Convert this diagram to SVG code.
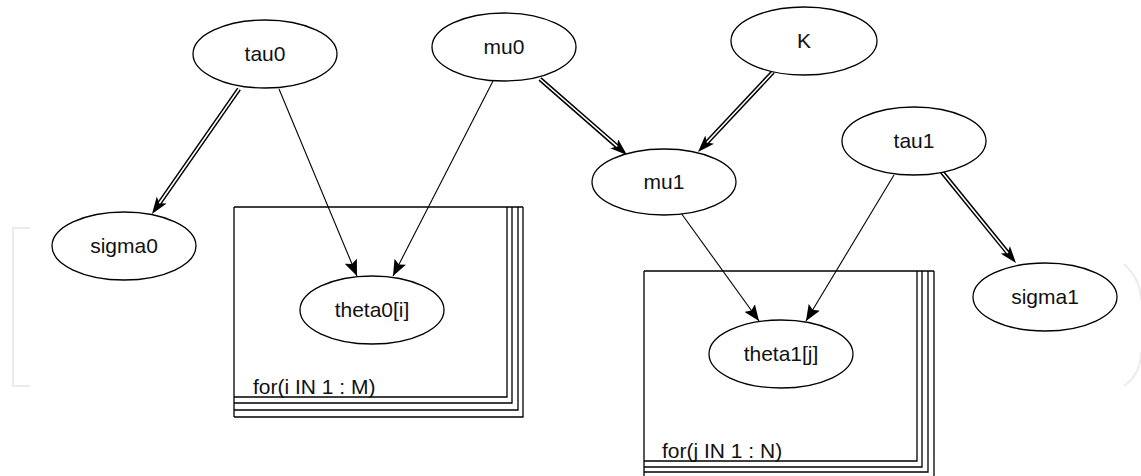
<svg xmlns="http://www.w3.org/2000/svg" width="1141" height="476" viewBox="0 0 1141 476">
  <defs>
    <style>
      .node ellipse { fill: #ffffff; stroke: #000000; stroke-width: 1.3; }
      .node text, .plate text { font-family: "Liberation Sans", Arial, sans-serif; font-size: 21px; fill: #111111; }
      .node text { text-anchor: middle; }
      .plate path { fill: none; stroke: #000000; stroke-width: 1.3; }
      .stoch { fill: none; stroke: #000000; stroke-width: 1.1; }
      .band { fill: none; stroke: #000000; stroke-width: 4.6; }
      .core { fill: none; stroke: #ffffff; stroke-width: 1.6; }
      .faint { fill: none; stroke: #ebebeb; stroke-width: 2; }
    </style>
    <!-- arrowhead for stochastic (single-line) links -->
    <marker id="headS" viewBox="0 0 16 13" refX="16" refY="6.5" markerWidth="16" markerHeight="13" markerUnits="userSpaceOnUse" orient="auto">
      <path d="M0,0 L16,6.5 L0,13 L3,6.5 z" fill="#000000"/>
    </marker>
    <!-- arrowhead for logical (double-line) links -->
    <marker id="headD" viewBox="0 0 17 12" refX="4" refY="6" markerWidth="17" markerHeight="12" markerUnits="userSpaceOnUse" orient="auto">
      <path d="M0,0 L17,6 L0,12 L4,6 z" fill="#000000"/>
    </marker>
  </defs>

  <rect width="1141" height="476" fill="#ffffff"/>

  <!-- faint page furniture at the edges -->
  <path class="faint" d="M30,228 H13 V386 H30"/>
  <path class="faint" d="M1124,264 Q1141,280 1141,300"/>
  <path class="faint" d="M1141,352 Q1141,374 1124,386"/>

  <!-- plates -->
  <g id="plate-i" class="plate">
    <path d="M234,207 H523 M234,207 V417 M507,207 V397 H234 M512,207 V403 H234 M518,207 V410 H234 M523,207 V417 H234"/>
    <text x="253" y="394">for(i IN 1 : M)</text>
  </g>
  <g id="plate-j" class="plate">
    <path d="M644,271 H934 M644,271 V476 M917,271 V461 H644 M922,271 V467 H644 M928,271 V472 H644 M934,271 V478 H644"/>
    <text x="662" y="458">for(j IN 1 : N)</text>
  </g>

  <!-- connectors -->
  <g id="connectors">
    <path class="stoch" d="M279,89 L357,276" marker-end="url(#headS)"/>
    <path class="stoch" d="M493,81 L393,276" marker-end="url(#headS)"/>
    <path class="stoch" d="M681,213 L759,321" marker-end="url(#headS)"/>
    <path class="stoch" d="M894,175 L806,321" marker-end="url(#headS)"/>

    <path class="band" d="M239,89 L159.4,203.3" marker-end="url(#headD)"/>
    <path class="core" d="M239,89 L159.4,203.3"/>
    <path class="band" d="M540,79 L617.2,146.4" marker-end="url(#headD)"/>
    <path class="core" d="M540,79 L617.2,146.4"/>
    <path class="band" d="M773,72 L706.9,142.5" marker-end="url(#headD)"/>
    <path class="core" d="M773,72 L706.9,142.5"/>
    <path class="band" d="M942,172 L1007.8,252.9" marker-end="url(#headD)"/>
    <path class="core" d="M942,172 L1007.8,252.9"/>
  </g>

  <!-- nodes -->
  <g id="tau0" class="node"><ellipse cx="265" cy="54" rx="72" ry="34"/><text x="265" y="61">tau0</text></g>
  <g id="mu0" class="node"><ellipse cx="504" cy="47" rx="72" ry="34"/><text x="504" y="54">mu0</text></g>
  <g id="K" class="node"><ellipse cx="804" cy="41" rx="73" ry="34"/><text x="804" y="48">K</text></g>
  <g id="mu1" class="node"><ellipse cx="664" cy="182" rx="72" ry="33"/><text x="664" y="189">mu1</text></g>
  <g id="tau1" class="node"><ellipse cx="914" cy="141" rx="72" ry="34"/><text x="914" y="148">tau1</text></g>
  <g id="sigma0" class="node"><ellipse cx="124" cy="246" rx="72" ry="34"/><text x="124" y="253">sigma0</text></g>
  <g id="sigma1" class="node"><ellipse cx="1045" cy="297" rx="72" ry="34"/><text x="1045" y="304">sigma1</text></g>
  <g id="theta0" class="node"><ellipse cx="372" cy="310" rx="72" ry="34"/><text x="372" y="317">theta0[i]</text></g>
  <g id="theta1" class="node"><ellipse cx="781" cy="354" rx="72" ry="34"/><text x="781" y="361">theta1[j]</text></g>
</svg>
